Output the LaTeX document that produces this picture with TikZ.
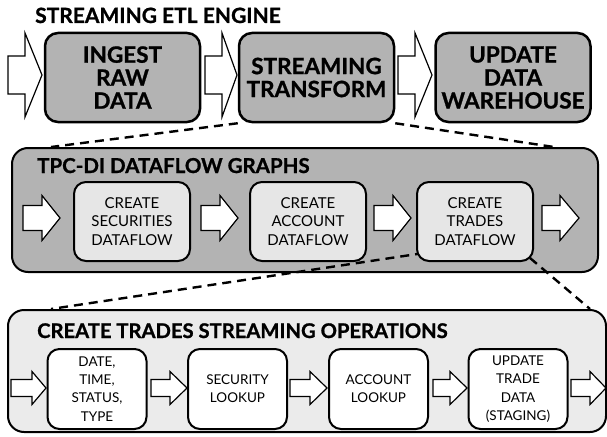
\documentclass[tikz,border=0pt]{standalone}
\usepackage{fontspec}
\setmainfont{Lato}
\newfontfamily\heavyfont{Lato}[BoldFeatures={FakeBold=1}]
\usetikzlibrary{calc}

\pgfdeclarelayer{panels}
\pgfdeclarelayer{guides}
\pgfsetlayers{panels,guides,main}

\definecolor{stagegray}{HTML}{B3B3B3}
\definecolor{flowgray}{HTML}{E6E6E6}
\definecolor{opsgray}{HTML}{EBEBEB}

\tikzset{
  heading/.style={anchor=base west, inner sep=0pt},
  stagebox/.style={draw, line width=2.5pt, rounded corners=13pt, fill=stagegray,
    align=center, inner sep=0pt, minimum width=155pt, minimum height=89pt,
    font=\heavyfont\fontsize{22.5}{23}\selectfont\bfseries},
  panelbox/.style={draw, line width=2pt, rounded corners=16pt, inner sep=0pt},
  flowbox/.style={draw, line width=2pt, rounded corners=12pt, fill=flowgray,
    align=center, inner sep=0pt, minimum width=116pt, minimum height=79pt,
    font=\fontsize{15}{18.5}\selectfont},
  opbox/.style={draw, line width=2pt, rounded corners=12pt, fill=white,
    align=center, inner sep=0pt, minimum width=99pt, minimum height=80pt,
    font=\fontsize{13.5}{18.3}\selectfont},
  blockarrow/.style={draw, fill=white, line width=1.2pt, line join=miter},
  zoomline/.style={draw, line width=2.4pt, dash pattern=on 9pt off 6pt},
}

% outlined block arrow: shaft start, head base, tip, centre line, half shaft, half head
\newcommand\blockarrow[6]{%
  \draw[blockarrow] (#1,{#4-#5}) -- (#2,{#4-#5}) -- (#2,{#4-#6}) -- (#3,#4)
    -- (#2,{#4+#6}) -- (#2,{#4+#5}) -- (#1,{#4+#5}) -- cycle;}

\begin{document}
\begin{tikzpicture}[x=1pt, y=-1pt]
\useasboundingbox (0,0) rectangle (607,436);

% ---- streaming ETL engine ----
\node[heading, font=\heavyfont\fontsize{21}{24}\selectfont\bfseries] (engtitle) at (35,23) {STREAMING ETL ENGINE};
\node[stagebox] (ingest)    at (122.5,77.5) {INGEST\\RAW\\DATA};
\node[stagebox] (transform) at (316.5,77.5) {STREAMING\\TRANSFORM};
\node[stagebox] (warehouse) at (513,77.5)   {UPDATE\\DATA\\WAREHOUSE};
\blockarrow{8}{25}{42}{75}{19}{42}
\blockarrow{205}{222}{237}{75}{19}{42}
\blockarrow{398}{415}{432}{75}{19}{42}

% ---- dataflow graphs ----
\begin{pgfonlayer}{panels}
  \node[panelbox, fill=stagegray, minimum width=586pt, minimum height=124pt] (graphs) at (305,210) {};
  \node[panelbox, fill=opsgray, minimum width=598pt, minimum height=122pt] (ops) at (307,371) {};
\end{pgfonlayer}
\node[heading, font=\heavyfont\fontsize{20.5}{23}\selectfont\bfseries] (graphtitle) at (37,173) {TPC-DI DATAFLOW GRAPHS};
\node[flowbox] (securities) at (132,221.5) {CREATE\\SECURITIES\\DATAFLOW};
\node[flowbox] (account)    at (308,221.5) {CREATE\\ACCOUNT\\DATAFLOW};
\node[flowbox] (trades)     at (475,221.5) {CREATE\\TRADES\\DATAFLOW};
\blockarrow{23}{42}{60}{218}{12.5}{22.5}
\blockarrow{201}{220}{238}{218}{12.5}{22.5}
\blockarrow{374}{393}{411}{218}{12.5}{22.5}
\blockarrow{542}{560}{579}{218}{12.5}{22.5}

% ---- trade operations ----
\node[heading, font=\heavyfont\fontsize{20.2}{23}\selectfont\bfseries] (optitle) at (37,338) {CREATE TRADES STREAMING OPERATIONS};
\node[opbox] (parse)    at (97,389)    {DATE,\\TIME,\\STATUS,\\TYPE};
\node[opbox] (seclook)  at (237.5,389) {SECURITY\\LOOKUP};
\node[opbox] (acclook)  at (378.5,389) {ACCOUNT\\LOOKUP};
\node[opbox] (staging)  at (518,389)   {UPDATE\\TRADE\\DATA\\(STAGING)};
\blockarrow{11}{32}{46}{388}{8.5}{16.5}
\blockarrow{151}{170}{187}{388}{8.5}{16.5}
\blockarrow{290}{310}{327}{388}{8.5}{16.5}
\blockarrow{433}{450}{467}{388}{8.5}{16.5}
\blockarrow{571}{590}{606}{388}{8.5}{16.5}

% ---- zoom guides ----
\begin{pgfonlayer}{guides}
  \draw[zoomline] (transform.south west) -- ($(graphs.north west)+(40,0)$);
  \draw[zoomline] (transform.south east) -- ($(graphs.north east)+(-45,0)$);
  \draw[zoomline] ($(trades.south west)+(8,-9)$) -- ($(ops.north west)+(44,0)$);
  \draw[zoomline] ($(trades.south east)+(-4,-4)$) -- ($(ops.north east)+(-17,0)$);
\end{pgfonlayer}
\end{tikzpicture}
\end{document}
